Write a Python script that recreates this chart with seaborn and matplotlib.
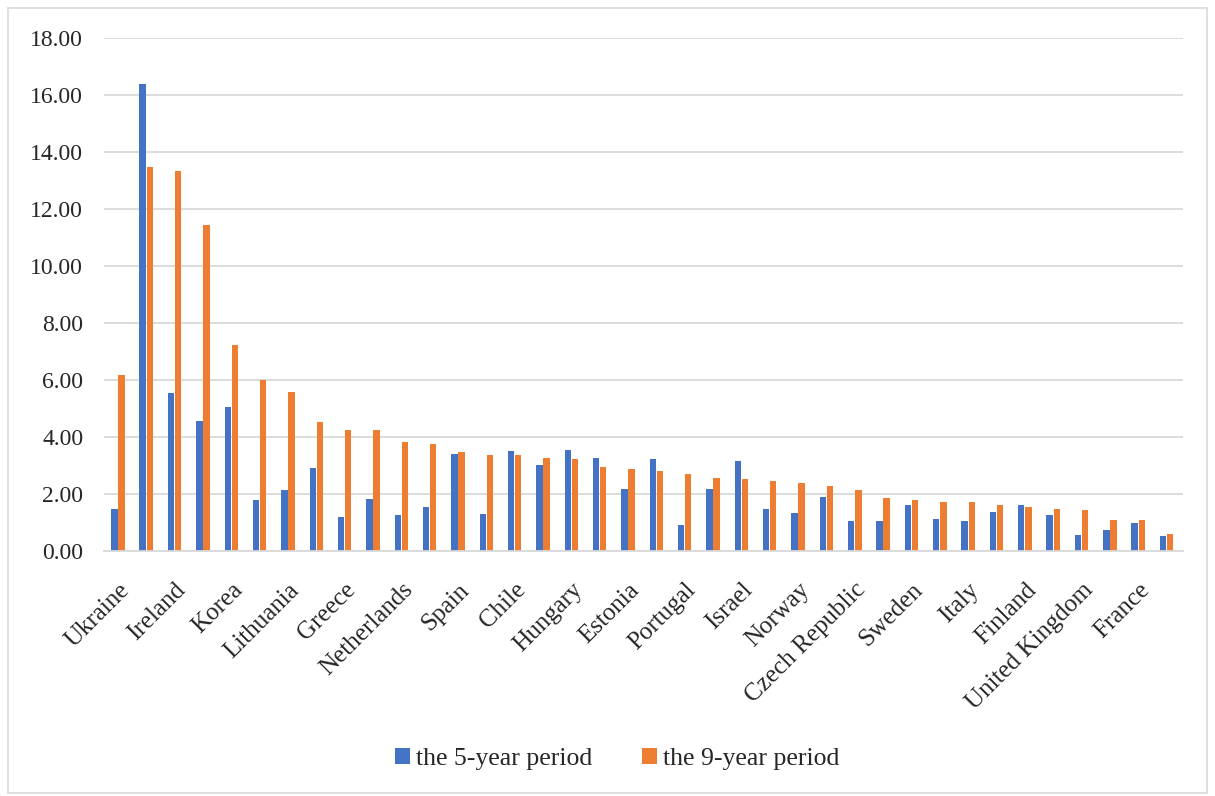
import matplotlib
matplotlib.use("Agg")
import matplotlib.pyplot as plt
import seaborn as sns
import pandas as pd
from matplotlib.patches import Patch, Rectangle

# 38 countries; only every other one is labelled on the reference axis
tick_labels = ["Ukraine", "", "Ireland", "", "Korea", "", "Lithuania", "",
               "Greece", "", "Netherlands", "", "Spain", "", "Chile", "",
               "Hungary", "", "Estonia", "", "Portugal", "", "Israel", "",
               "Norway", "", "Czech Republic", "", "Sweden", "", "Italy", "",
               "Finland", "", "United Kingdom", "", "France", ""]
categories = [lab if lab else f"unlabelled_{i}" for i, lab in enumerate(tick_labels)]

five_year = [1.48, 16.38, 5.54, 4.56, 5.05, 1.78, 2.14, 2.90, 1.21, 1.82,
             1.26, 1.56, 3.40, 1.29, 3.51, 3.02, 3.54, 3.25, 2.16, 3.24,
             0.91, 2.16, 3.16, 1.47, 1.34, 1.88, 1.05, 1.05, 1.62, 1.14,
             1.07, 1.36, 1.63, 1.28, 0.55, 0.74, 1.00, 0.52]
nine_year = [6.19, 13.47, 13.32, 11.44, 7.22, 6.00, 5.57, 4.54, 4.25, 4.25,
             3.81, 3.74, 3.49, 3.38, 3.37, 3.28, 3.23, 2.94, 2.89, 2.80,
             2.71, 2.56, 2.53, 2.44, 2.37, 2.27, 2.15, 1.87, 1.80, 1.73,
             1.72, 1.63, 1.54, 1.48, 1.45, 1.10, 1.09, 0.58]
series_names = ["the 5-year period", "the 9-year period"]
y_ticks = [0, 2, 4, 6, 8, 10, 12, 14, 16, 18]

df = pd.DataFrame({
    "country": categories * 2,
    "value": five_year + nine_year,
    "series": [series_names[0]] * len(categories) + [series_names[1]] * len(categories),
})

sns.set_theme(style="white")
plt.rcParams["font.family"] = ["Liberation Serif", "DejaVu Serif"]

colors = ["#4472C4", "#ED7D31"]
fig = plt.figure(figsize=(12.15, 7.96), dpi=100)
ax = fig.add_axes([104 / 1215, 1 - 551 / 796, 1079 / 1215, (551 - 38) / 796])

sns.barplot(data=df, x="country", y="value", hue="series", order=categories,
            hue_order=series_names, palette=colors, saturation=1, width=0.5,
            gap=0.1, linewidth=0, ax=ax, legend=False)

ax.set_xlim(-0.49, len(categories) - 0.42)
ax.set_ylim(0, 18)
ax.set_yticks(y_ticks)
ax.set_yticklabels([f"{v:.2f}" for v in y_ticks], fontsize=17, color="#262626")
ax.set_xticks(range(len(categories)))
ax.set_xticklabels(tick_labels, rotation=45, ha="right", rotation_mode="anchor",
                   fontsize=18, color="#262626")
ax.tick_params(axis="x", length=0, pad=20)
ax.tick_params(axis="y", length=0, pad=15)
ax.set_xlabel("")
ax.set_ylabel("")
ax.grid(axis="y", color="#d9d9d9", linewidth=1.3)
ax.set_axisbelow(True)
for s in ["top", "right", "left"]:
    ax.spines[s].set_visible(False)
ax.spines["bottom"].set_color("#d9d9d9")
ax.spines["bottom"].set_linewidth(1.3)

handles = [Patch(facecolor=c, edgecolor="none") for c in colors]
fig.legend(handles, series_names, loc="center", bbox_to_anchor=(0.508, 1 - 759 / 796),
           ncol=2, frameon=False, fontsize=18.5, handlelength=0.6, handleheight=0.6,
           handletextpad=0.25, columnspacing=1.9)

fig.patches.append(Rectangle((8 / 1215, 3 / 796), 1199 / 1215, 785 / 796,
                             transform=fig.transFigure, fill=False,
                             edgecolor="#d9d9d9", linewidth=1.2))

fig.savefig("out.png", dpi=100, facecolor="white")
